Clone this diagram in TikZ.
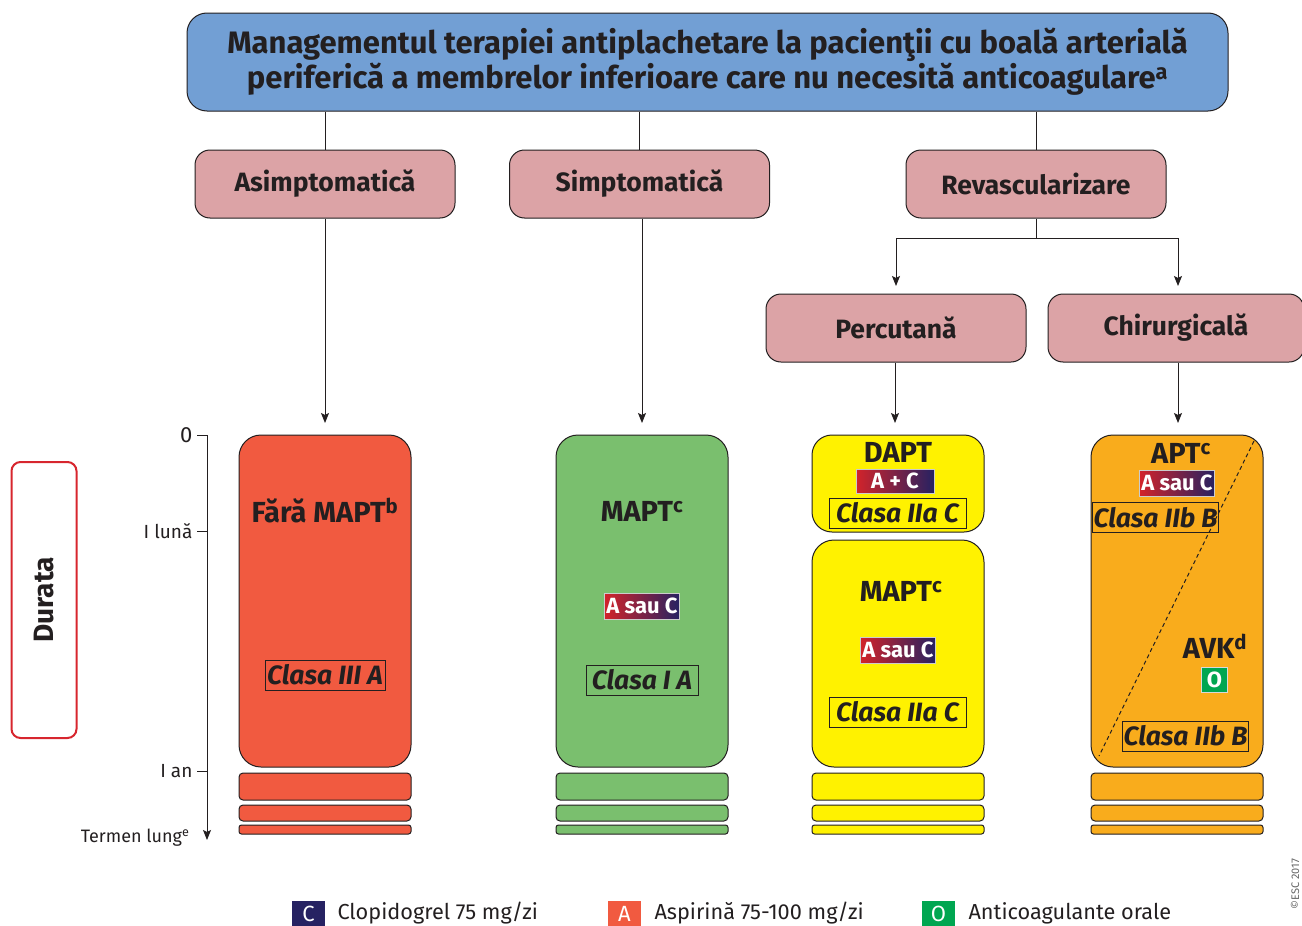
\documentclass[tikz,border=0pt]{standalone}
\usepackage{fontspec}
\setmainfont{Fira Sans}
\usetikzlibrary{arrows.meta}
\definecolor{bluec}{HTML}{729FD4}
\definecolor{pinkc}{HTML}{DCA3A6}
\definecolor{redc}{HTML}{F15A40}
\definecolor{greenc}{HTML}{7ABF6E}
\definecolor{yellowc}{HTML}{FFF200}
\definecolor{orangec}{HTML}{F9AC1C}
\definecolor{navyc}{HTML}{262262}
\definecolor{badgered}{HTML}{D2232A}
\definecolor{ogreen}{HTML}{00A651}
\definecolor{durred}{HTML}{D7262E}
\definecolor{inkc}{HTML}{231F20}
\begin{document}
\begin{tikzpicture}[x=1pt,y=-1pt,
  every node/.style={text=inkc},
  titlebox/.style={draw=inkc, line width=1pt, fill=bluec, rounded corners=20pt, minimum width=1041pt, minimum height=98pt, align=center, font=\bfseries\fontsize{31}{32}\selectfont},
  cat/.style={draw=inkc, line width=1pt, fill=pinkc, rounded corners=15pt, minimum width=260pt, minimum height=68pt, font=\bfseries\fontsize{26.5}{28}\selectfont},
  colbox/.style={draw=inkc, line width=1pt, rounded corners=22pt, minimum width=172pt},
  stripe/.style={draw=inkc, line width=1pt, rounded corners=4pt, minimum width=172pt},
  head/.style={font=\bfseries\fontsize{29}{30}\selectfont},
  clasa/.style={draw=inkc, line width=0.9pt, font=\bfseries\itshape\fontsize{26.5}{28}\selectfont, inner sep=1pt, minimum height=30pt},
  badge/.style={left color=badgered, right color=navyc, draw=white!80!black, line width=0.6pt, text=white, font=\bfseries\fontsize{22}{22}\selectfont, minimum height=26pt, inner sep=2pt},
  obox/.style={fill=ogreen, draw=white!85!black, line width=0.8pt, text=white, font=\bfseries\fontsize{22}{22}\selectfont, minimum width=26pt, minimum height=25pt, inner sep=0pt},
  leg/.style={text=white, font=\fontsize{22}{22}\selectfont, minimum width=33pt, minimum height=25pt, inner sep=0pt},
  legtxt/.style={anchor=west, font=\fontsize{21.7}{22}\selectfont},
  conn/.style={draw=inkc, line width=1pt},
  arr/.style={conn, -{Stealth[length=10pt,width=8pt,inset=2pt]}},
  axl/.style={anchor=east, font=\fontsize{19}{20}\selectfont}
]
\clip (0,0) rectangle (1302,926);
\useasboundingbox (0,0) rectangle (1302,926);

% title
\node[titlebox] (title) at (707.5,62) {Managementul terapiei antiplachetare la pacienţii cu boală arterială\\periferică a membrelor inferioare care nu necesită anticoagulare\textsuperscript{a}};

% categories
\node[cat] (asym) at (325,184) {Asimptomatică};
\node[cat] (sym) at (639.5,184) {Simptomatică};
\node[cat] (rev) at (1036,184) {Revascularizare};
\node[cat] (perc) at (896,328) {Percutană};
\node[cat, minimum width=256pt] (chir) at (1176,328) {Chirurgicală};

% columns
\node[colbox, fill=redc, minimum height=332pt] (rcol) at (325,601) {};
\node[colbox, fill=greenc, minimum height=332pt] (gcol) at (642,601) {};
\node[colbox, fill=yellowc, minimum height=97pt, rounded corners=20pt] (ycol1) at (898,483.5) {};
\node[colbox, fill=yellowc, minimum height=227pt] (ycol2) at (898,653.5) {};
\node[colbox, fill=orangec, minimum height=332pt] (ocol) at (1177,601) {};

% stripes
\foreach \n/\cx/\c in {r/325/redc, g/642/greenc, y/898/yellowc, o/1177/orangec}{
  \node[stripe, fill=\c, minimum height=27pt] (\n s1) at (\cx,786.5) {};
  \node[stripe, fill=\c, minimum height=16pt] (\n s2) at (\cx,813) {};
  \node[stripe, fill=\c, minimum height=9pt, rounded corners=2.5pt] (\n s3) at (\cx,829.5) {};
}

% connectors from title
\draw[conn] (title.south -| asym.north) -- (asym.north);
\draw[conn] (title.south -| sym.north) -- (sym.north);
\draw[conn] (title.south -| rev.north) -- (rev.north);

\coordinate (ra) at (325,423);
\coordinate (ga) at (642,423);
\coordinate (ya) at (895,423);
\coordinate (oa) at (1178,423);
\coordinate (split) at (1036,238);
\coordinate (pl) at (896,238);
\coordinate (pr) at (1178,238);
\coordinate (pa) at (896,286);
\coordinate (ca) at (1178,286);

\draw[arr] (asym.south) -- (ra);
\draw[arr] (sym.south -| ga) -- (ga);
\draw[conn] (rev.south) -- (split);
\draw[arr] (split) -- (pl) -- (pa);
\draw[arr] (split) -- (pr) -- (ca);
\draw[arr] (perc.south -| ya) -- (ya);
\draw[arr] (chir.south -| oa) -- (oa);

% red column texts
\node[head] (fara) at (325,511) {Fără MAPT\textsuperscript{b}};
\node[clasa, minimum width=120pt] (c1) at (325,675) {Clasa III A};

% green column
\node[head] (mapt1) at (642,511) {MAPT\textsuperscript{c}};
\node[badge] (b1) at (642,606) {A sau C};
\node[clasa, minimum width=112pt] (c2) at (642,680) {Clasa I A};

% yellow column
\node[head] (dapt) at (898,452) {DAPT};
\node[badge, minimum width=78pt, minimum height=24pt] (b2) at (895,481) {A + C};
\node[clasa, minimum width=137pt] (c3) at (897.5,513) {Clasa IIa C};
\node[head] (mapt2) at (901,591) {MAPT\textsuperscript{c}};
\node[badge] (b3) at (898,650) {A sau C};
\node[clasa, minimum width=137pt] (c4) at (897.5,712) {Clasa IIa C};

% orange column
\draw[inkc, line width=1pt, dash pattern=on 4pt off 3pt] (1254,441) -- (1099,756);
\node[head] (apt) at (1181,453) {APT\textsuperscript{c}};
\node[badge] (b4) at (1177,483) {A sau C};
\node[clasa, minimum width=121pt] (c5) at (1155.5,517.5) {Clasa IIb B};
\node[head] (avk) at (1215,646) {AVK\textsuperscript{d}};
\node[obox] (o1) at (1214.5,679.5) {O};
\node[clasa, minimum width=121pt] (c6) at (1185.5,736) {Clasa IIb B};

% time axis
\coordinate (ax0) at (207,435);
\coordinate (axend) at (207,840);
\draw[arr] (ax0) -- (axend);
\draw[conn] (197,435) -- (ax0);
\draw[conn] (197,531) -- (207,531);
\draw[conn] (197,771) -- (207,771);
\node[axl, font=\fontsize{22}{22}\selectfont] (t0) at (196,435) {0};
\node[axl] (t1) at (196,531) {I lună};
\node[axl] (t2) at (196,771) {I an};
\node[axl, font=\fontsize{18}{20}\selectfont] (t3) at (193,838) {Termen lung\textsuperscript{e}};

% Durata
\node[draw=durred, line width=2pt, rounded corners=9pt, minimum width=65pt, minimum height=276pt] (dur) at (44,600) {};
\node[rotate=90, font=\bfseries\fontsize{28}{28}\selectfont] (durt) at (dur.center) {Durata};

% legend
\node[leg, fill=navyc] (lc) at (308.5,913.5) {C};
\node[legtxt] (lct) at (334,913.5) {Clopidogrel 75 mg/zi};
\node[leg, fill=redc] (la) at (624.5,913.5) {A};
\node[legtxt] (lat) at (651,913.5) {Aspirină 75-100 mg/zi};
\node[leg, fill=ogreen] (lo) at (938.5,913.5) {O};
\node[legtxt] (lot) at (965,913.5) {Anticoagulante orale};

% copyright
\node[rotate=90, font=\fontsize{11}{12}\selectfont, text=black!60, inner sep=1pt] (copy) at (1295,884) {©ESC 2017};
\end{tikzpicture}
\end{document}
